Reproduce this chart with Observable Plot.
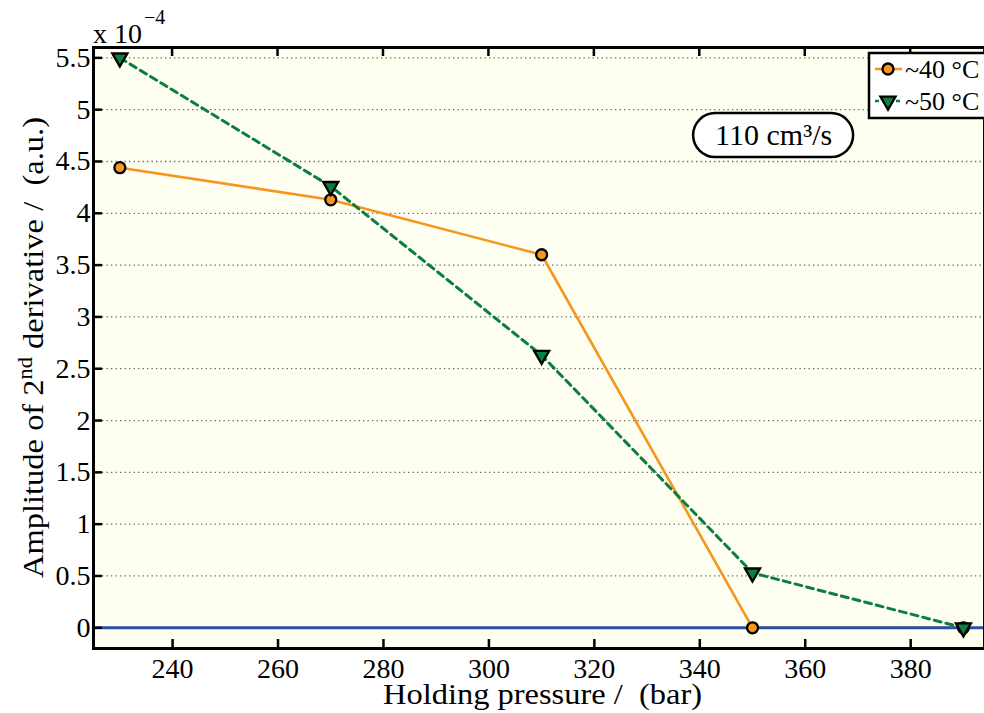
<!DOCTYPE html>
<html><head><meta charset="utf-8">
<script src="https://cdn.jsdelivr.net/npm/d3@7"></script>
<script src="https://cdn.jsdelivr.net/npm/@observablehq/plot@0.6"></script>
<style>body{margin:0;overflow:hidden;background:#fff} svg{display:block;overflow:visible} text{white-space:pre}</style>
</head><body><div id="chart"></div>
<script>
// ---- data ----
const pressure40 = [230, 270, 310, 350, 390];
const amp40 = [4.44, 4.13, 3.60, 0.00, 0.00];
const pressure50 = [230, 270, 310, 350, 390];
const amp50 = [5.50, 4.26, 2.63, 0.53, 0.00];
const seriesNames = ["~40 °C", "~50 °C"];
const xTicks = [240, 260, 280, 300, 320, 340, 360, 380];
const yTicks = [0, 0.5, 1, 1.5, 2, 2.5, 3, 3.5, 4, 4.5, 5, 5.5];
const xLabel = "Holding pressure /  (bar)";
const yLabelParts = ["Amplitude of 2", "nd", " derivative /  (a.u.)"];
const annotation = {x: 354, y: 4.75, text: "110 cm³/s"};

const colors = {orange: "#F7961E", green: "#0A7F3F", blue: "#2E4FA5", bg: "#FEFEF1"};

const d40 = pressure40.map((p, i) => ({p, a: amp40[i]}));
const d50 = pressure50.map((p, i) => ({p, a: amp50[i]}));

const font = "Liberation Serif, DejaVu Serif, serif";
const fmt = d => `${d}`;

const W = 984, H = 713, mL = 93, mR = 0, mT = 47, mB = 65;
const tick = 9;

const plot = Plot.plot({
  width: W, height: H,
  marginLeft: mL, marginRight: mR, marginTop: mT, marginBottom: mB,
  style: {fontFamily: font, fontSize: "28px", background: "white", color: "black"},
  x: {domain: [225, 394]},
  y: {domain: [-0.2, 5.6]},
  marks: [
    Plot.frame({fill: colors.bg, stroke: null}),
    Plot.gridY(yTicks, {stroke: "#666", strokeOpacity: 1, strokeWidth: 1.3, strokeDasharray: "1.3,3.2"}),
    Plot.line(d40, {x: "p", y: "a", stroke: colors.orange, strokeWidth: 2.6}),
    Plot.line(d50, {x: "p", y: "a", stroke: colors.green, strokeWidth: 3, strokeDasharray: "7,5"}),
    Plot.ruleY([0], {stroke: colors.blue, strokeWidth: 3}),
    Plot.dot(d40, {x: "p", y: "a", r: 5.5, fill: colors.orange, stroke: "black", strokeWidth: 2.3}),
    Plot.dot(d50, {x: "p", y: "a", symbol: "triangle", rotate: 180, r: 5.6, fill: colors.green, stroke: "black", strokeWidth: 2.3}),
    Plot.frame({stroke: "black", strokeWidth: 3}),
    Plot.axisX(xTicks, {anchor: "bottom", tickSize: -tick, tickPadding: 10 + tick, strokeWidth: 2.5, label: null, fontSize: 28, tickFormat: fmt}),
    Plot.axisY(yTicks, {anchor: "left", tickSize: -tick, tickPadding: 3 + tick, strokeWidth: 2.5, label: null, fontSize: 28, tickFormat: fmt}),
    Plot.text([annotation], {x: "x", y: "y", text: "text", fontSize: 30, textAnchor: "middle"})
  ]
});
document.getElementById("chart").appendChild(plot);

const svg = d3.select(plot);
const sx = plot.scale("x"), sy = plot.scale("y");

// inward ticks along the top border, placed with Plot's x scale
const topTicks = svg.append("g").attr("stroke", "black").attr("stroke-width", 2.5);
xTicks.forEach(t => {
  const px = sx.apply(t);
  topTicks.append("path").attr("d", `M${px},${mT}V${mT + tick}`);
});

// rounded box around annotation
const ax = sx.apply(annotation.x), ay = sy.apply(annotation.y);
svg.insert("rect", "g[aria-label='text']")
  .attr("x", ax - 80).attr("y", ay - 22).attr("width", 160).attr("height", 44)
  .attr("rx", 22).attr("fill", "white").attr("stroke", "black").attr("stroke-width", 2.5);

// exponent
const ex = svg.append("text").attr("font-family", font).attr("fill", "black").attr("text-anchor", "start");
ex.append("tspan").attr("x", 93).attr("y", 43).attr("font-size", 28).text("x 10");
ex.append("tspan").attr("x", 144).attr("y", 24).attr("font-size", 20).text("−4");

// x label
svg.append("text").attr("font-family", font).attr("font-size", 29).attr("fill", "black")
  .attr("text-anchor", "start").attr("x", 383).attr("y", 704)
  .attr("textLength", 319).attr("lengthAdjust", "spacingAndGlyphs").text(xLabel);

// y label
const yl = svg.append("text").attr("font-family", font).attr("font-size", 29).attr("fill", "black")
  .attr("text-anchor", "start").attr("transform", "translate(43,578) rotate(-90)")
  .attr("textLength", 461).attr("lengthAdjust", "spacingAndGlyphs");
yl.append("tspan").text(yLabelParts[0]);
yl.append("tspan").attr("font-size", 20).attr("dy", -11).text(yLabelParts[1]);
yl.append("tspan").attr("dy", 11).text(yLabelParts[2]);

// legend
const lg = svg.append("g").attr("text-anchor", "start");
lg.append("rect").attr("x", 869).attr("y", 53).attr("width", 140).attr("height", 65)
  .attr("fill", "white").attr("stroke", "black").attr("stroke-width", 2.5);
const rows = [
  {y: 69, color: colors.orange, dash: null, sym: d3.symbolCircle, name: seriesNames[0], rot: 0, size: Math.PI * 5.5 * 5.5},
  {y: 101, color: colors.green, dash: "4,3", sym: d3.symbolTriangle, name: seriesNames[1], rot: 180, size: Math.PI * 5.6 * 5.6}
];
rows.forEach(r => {
  lg.append("line").attr("x1", 875).attr("x2", 902).attr("y1", r.y).attr("y2", r.y)
    .attr("stroke", r.color).attr("stroke-width", 2.6).attr("stroke-dasharray", r.dash);
  lg.append("path").attr("d", d3.symbol(r.sym, r.size)())
    .attr("transform", `translate(888,${r.y}) rotate(${r.rot})`)
    .attr("fill", r.color).attr("stroke", "black").attr("stroke-width", 2.3);
  lg.append("text").attr("x", 905).attr("y", r.y + 9).attr("font-family", font)
    .attr("font-size", 26).attr("fill", "black").text(r.name);
});
</script>
</body></html>
